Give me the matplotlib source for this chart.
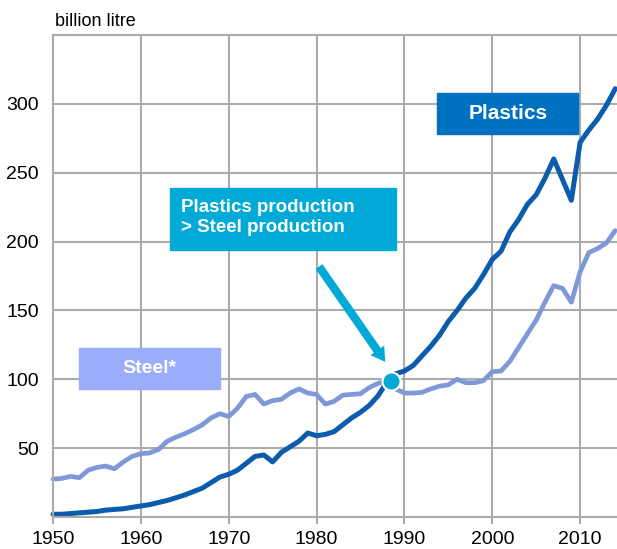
import matplotlib.pyplot as plt
from matplotlib.patches import Rectangle

plt.rcParams['font.family'] = ['Liberation Sans', 'DejaVu Sans']

years = list(range(1950, 2015))

# billion litre
plastics = [2, 2, 2.5, 3, 3.5, 4, 5, 5.5, 6, 7,
            8, 9, 10.5, 12, 14, 16, 18.5, 21, 25, 29,
            31, 34, 39, 44, 45, 40, 47, 51, 55, 61,
            59, 60, 62, 67, 72, 76, 81, 88, 98, 104,
            106, 110, 117, 124, 132, 142, 150, 159, 166, 176,
            187, 193, 207, 216, 227, 234, 246, 260, 245, 230,
            272, 281, 289, 299, 311]
steel = [27.5, 28, 29.5, 28.5, 34, 36, 37, 35, 40, 44,
         46, 46.5, 49, 55, 58, 60.5, 63.5, 67, 72, 75,
         73, 79, 87.5, 89, 82, 84.5, 85.5, 90, 93, 90,
         89, 82, 84, 88.5, 89, 89.5, 94, 97, 99, 93,
         90, 90, 90.5, 93, 95, 96, 100, 97.5, 97.5, 99,
         105.5, 106, 113, 123, 133, 143, 156, 168, 166, 156,
         178, 192, 195, 199, 208]

x_ticks = [1950, 1960, 1970, 1980, 1990, 2000, 2010]
y_ticks = [50, 100, 150, 200, 250, 300]
crossing = (1988.5, 98.5)

grid_col = '#ababab'
plastics_col = '#0b5cad'
steel_col = '#7f98d8'
cyan = '#00a9d6'

fig = plt.figure(figsize=(6.17, 5.49), dpi=100)
ax = fig.add_axes([53 / 617, 32 / 549, 1 - 53 / 617, 482 / 549])

ax.set_xlim(1950, 2014.2)
ax.set_ylim(0, 350)
ax.set_xticks(x_ticks)
ax.set_yticks(y_ticks)
ax.grid(True, color=grid_col, linewidth=1.5)
ax.set_axisbelow(True)
for side in ['left', 'bottom', 'top']:
    ax.spines[side].set_color(grid_col)
    ax.spines[side].set_linewidth(1.5)
ax.spines['right'].set_visible(False)
ax.tick_params(axis='x', length=5, width=1.5, color=grid_col, labelsize=14, pad=5)
ax.tick_params(axis='y', length=0, labelsize=14, pad=10)

ax.plot(years, steel, color=steel_col, linewidth=3.4, solid_capstyle='round',
        solid_joinstyle='round', clip_on=False)
ax.plot(years, plastics, color=plastics_col, linewidth=3.6, solid_capstyle='round',
        solid_joinstyle='round', clip_on=False)

# crossing point and callout
ax.plot(*crossing, 'o', markersize=13, color=cyan, markeredgecolor='white', markeredgewidth=1.5, zorder=5)
ax.annotate('', xy=(1988.0, 111), xytext=(1980.1, 183.5),
            arrowprops=dict(arrowstyle='simple,head_length=1.0,head_width=1.2,tail_width=0.6',
                            color=cyan, lw=0))

ax.add_patch(Rectangle((1963.3, 193.7), 25.7, 45.2, color=cyan, zorder=4))
ax.text(1964.6, 217.5, 'Plastics production\n> Steel production', color='white',
        fontsize=13.5, fontweight='bold', ha='left', va='center', linespacing=1.25, zorder=5)

ax.add_patch(Rectangle((1993.7, 278), 16.1, 30, color='#0070c0', zorder=4))
ax.text(2001.8, 293, 'Plastics', color='white', fontsize=15, fontweight='bold',
        ha='center', va='center', zorder=5)

ax.add_patch(Rectangle((1953.0, 93.2), 16.0, 29.8, color='#9bacfb', zorder=4))
ax.text(1961.0, 108, 'Steel*', color='white', fontsize=14, fontweight='bold',
        ha='center', va='center', zorder=5)

fig.text(55 / 617, 1 - 22 / 549, 'billion litre', fontsize=13, ha='left', va='center')

fig.savefig('out.png', dpi=100)
